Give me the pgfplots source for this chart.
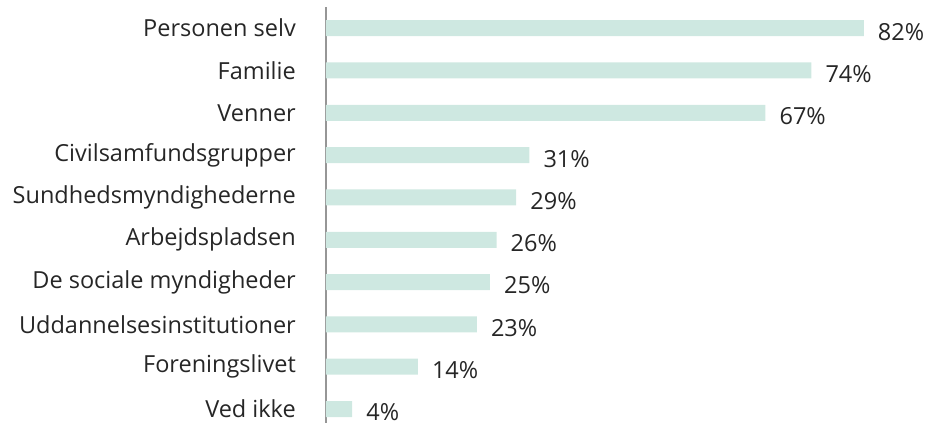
\documentclass[border=0pt]{standalone}
\usepackage{pgfplots}
\pgfplotsset{compat=1.18}
\usepackage{fontspec}
\setmainfont{Open Sans}
\definecolor{barfill}{RGB}{206,232,225}
\definecolor{txt}{RGB}{38,38,38}
\definecolor{axisgray}{RGB}{150,150,150}
\begin{document}
\begin{tikzpicture}
\begin{axis}[
    at={(0,0)}, anchor=south west,
    scale only axis,
    width=606pt, height=416pt,
    xbar, bar width=16pt,
    xmin=0, xmax=92.4,
    ymin=-0.33, ymax=9.5,
    axis x line=none,
    axis y line*=left,
    y axis line style={draw=axisgray, line width=1.2pt, -},
    major tick length=0pt,
    ytick={0,...,9},
    yticklabels={Ved ikke,Foreningslivet,Uddannelsesinstitutioner,De sociale myndigheder,Arbejdspladsen,Sundhedsmyndighederne,Civilsamfundsgrupper,Venner,Familie,Personen selv},
    yticklabel style={font=\fontsize{23.5}{27}\selectfont, text=txt, anchor=east, inner sep=0pt, xshift=-30pt},
    /pgf/number format/assume math mode=true,
    point meta=x,
    nodes near coords={\pgfmathprintnumber{\pgfplotspointmeta}\%},
    nodes near coords style={font=\fontsize{23.5}{27}\selectfont, text=txt, anchor=west, inner sep=0pt, xshift=14pt, yshift=-3.5pt},
]
\addplot[fill=barfill, draw=none] coordinates {
    (4,0) (14,1) (23,2) (25,3) (26,4) (29,5) (31,6) (67,7) (74,8) (82,9)
};
\end{axis}
\pgfresetboundingbox
\path[use as bounding box] (-326pt,0pt) rectangle (606pt,423pt);
\end{tikzpicture}
\end{document}
